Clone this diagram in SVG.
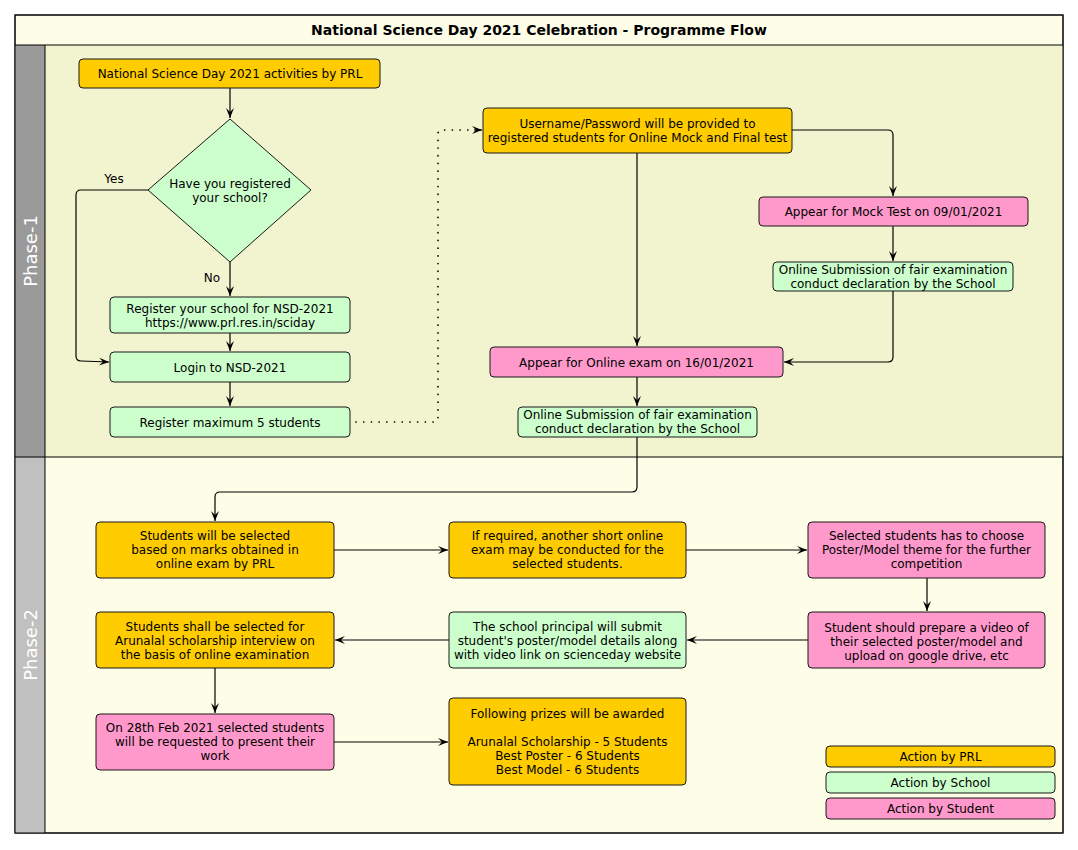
<svg xmlns="http://www.w3.org/2000/svg" width="1078" height="850" viewBox="0 0 1078 850">
<defs>
<marker id="arr" markerWidth="12" markerHeight="10" refX="10" refY="4" orient="auto" markerUnits="userSpaceOnUse">
<path d="M0,0 L10,4 L0,8 L4,4 Z" fill="#000"/>
</marker>
<style>
.t{font-family:"DejaVu Sans",sans-serif;font-size:12px;fill:#000;text-anchor:middle}
.prl{fill:#FFCC00;stroke:#181818;stroke-width:1}
.sch{fill:#CCFFCC;stroke:#181818;stroke-width:1}
.stu{fill:#FF99CC;stroke:#181818;stroke-width:1}
.c{fill:none;stroke:#000;stroke-width:1.2;marker-end:url(#arr)}
.d{fill:none;stroke:#000;stroke-width:1.7;stroke-dasharray:0.1 7.6;stroke-linecap:round}
.lane{font-family:"DejaVu Sans",sans-serif;font-size:18px;fill:#fff;text-anchor:middle}
</style>
</defs>
<rect width="1078" height="850" fill="#fff"/>
<g id="frame">
<rect x="15" y="15" width="1048" height="818" fill="#FEFEE8" stroke="#000" stroke-width="1"/>
<rect x="15" y="45" width="30" height="412" fill="#9A9A9A"/>
<rect x="45" y="45" width="1018" height="412" fill="#F2F4CF"/>
<rect x="15" y="457" width="30" height="376" fill="#C0C0C0"/>
<rect x="15" y="15" width="1048" height="818" fill="none" stroke="#000" stroke-width="1"/>
<line x1="15" y1="45" x2="1063" y2="45" stroke="#000"/>
<line x1="15" y1="457" x2="1063" y2="457" stroke="#000"/>
<line x1="45" y1="45" x2="45" y2="833" stroke="#000"/>
<text x="539" y="35" style="font-family:'DejaVu Sans',sans-serif;font-size:14px;font-weight:bold;text-anchor:middle">National Science Day 2021 Celebration - Programme Flow</text>
<text class="lane" transform="translate(37,251) rotate(-90)">Phase-1</text>
<text class="lane" transform="translate(37,645) rotate(-90)">Phase-2</text>
</g>
<g id="connectors">
<path class="c" d="M230,88 V118"/>
<path class="c" d="M148,190 H81 Q76,190 76,195 V356 Q76,361 81,361 L109,362"/>
<path class="c" d="M230,262 V296"/>
<path class="c" d="M230,333 V351"/>
<path class="c" d="M230,382 V406"/>
<path class="d" d="M356,422 H434 Q438,422 438,418 V134 Q438,130 442,130 H474"/>
<path class="c" d="M474,130 H482"/>
<path class="c" d="M637,153 V346"/>
<path class="c" d="M792,130 H888 Q893,130 893,135 V196"/>
<path class="c" d="M893,226 V261"/>
<path class="c" d="M893,291 V357 Q893,362 888,362 H784"/>
<path class="c" d="M637,377 V406"/>
<path class="c" d="M637,437 V487 Q637,492 632,492 H220 Q215,492 215,497 V521"/>
<path class="c" d="M334,550 H448"/>
<path class="c" d="M686,550 H807"/>
<path class="c" d="M927,578 V611"/>
<path class="c" d="M808,640 H687"/>
<path class="c" d="M449,640 H335"/>
<path class="c" d="M215,668 V713"/>
<path class="c" d="M334,742 H448"/>
<text x="114" y="183" class="t">Yes</text>
<text x="212" y="282" class="t">No</text>
</g>
<g id="n1"><rect class="prl" x="79" y="59" width="301" height="29" rx="4"/><text class="t" x="230" y="78">National Science Day 2021 activities by PRL</text></g>
<g id="n2"><path class="sch" d="M230,119 L311,190 L230,262 L148,190 Z"/><text class="t" x="230" y="188">Have you registered</text><text class="t" x="230" y="202">your school?</text></g>
<g id="n3"><rect class="sch" x="110" y="297" width="240" height="36" rx="4"/><text class="t" x="230" y="313">Register your school for NSD-2021</text><text class="t" x="230" y="327">https://www.prl.res.in/sciday</text></g>
<g id="n4"><rect class="sch" x="110" y="352" width="240" height="30" rx="4"/><text class="t" x="230" y="371.5">Login to NSD-2021</text></g>
<g id="n5"><rect class="sch" x="110" y="407" width="240" height="30" rx="4"/><text class="t" x="230" y="426.5">Register maximum 5 students</text></g>
<g id="n6"><rect class="prl" x="483" y="108" width="309" height="45" rx="4"/><text class="t" x="637.5" y="127.5">Username/Password will be provided to</text><text class="t" x="637.5" y="141.5">registered students for Online Mock and Final test</text></g>
<g id="n7"><rect class="stu" x="759" y="197" width="269" height="29" rx="4"/><text class="t" x="893.5" y="216">Appear for Mock Test on 09/01/2021</text></g>
<g id="n8"><rect class="sch" x="773" y="262" width="240" height="29" rx="4"/><text class="t" x="893" y="273.5">Online Submission of fair examination</text><text class="t" x="893" y="287.5">conduct declaration by the School</text></g>
<g id="n9"><rect class="stu" x="490" y="347" width="293" height="30" rx="4"/><text class="t" x="636.5" y="366.5">Appear for Online exam on 16/01/2021</text></g>
<g id="n10"><rect class="sch" x="518" y="407" width="239" height="30" rx="4"/><text class="t" x="637.5" y="419">Online Submission of fair examination</text><text class="t" x="637.5" y="433">conduct declaration by the School</text></g>
<g id="n11"><rect class="prl" x="96" y="522" width="238" height="56" rx="4"/><text class="t" x="215" y="540">Students will be selected</text><text class="t" x="215" y="554">based on marks obtained in</text><text class="t" x="215" y="568">online exam by PRL</text></g>
<g id="n12"><rect class="prl" x="449" y="522" width="237" height="56" rx="4"/><text class="t" x="567.5" y="540">If required, another short online</text><text class="t" x="567.5" y="554">exam may be conducted for the</text><text class="t" x="567.5" y="568">selected students.</text></g>
<g id="n13"><rect class="stu" x="808" y="522" width="237" height="56" rx="4"/><text class="t" x="926.5" y="540">Selected students has to choose</text><text class="t" x="926.5" y="554">Poster/Model theme for the further</text><text class="t" x="926.5" y="568">competition</text></g>
<g id="n14"><rect class="stu" x="808" y="612" width="237" height="56" rx="4"/><text class="t" x="926.5" y="632">Student should prepare a video of</text><text class="t" x="926.5" y="646">their selected poster/model and</text><text class="t" x="926.5" y="660">upload on google drive, etc</text></g>
<g id="n15"><rect class="sch" x="449" y="612" width="237" height="56" rx="4"/><text class="t" x="567.5" y="631">The school principal will submit</text><text class="t" x="567.5" y="645">student's poster/model details along</text><text class="t" x="567.5" y="659">with video link on scienceday website</text></g>
<g id="n16"><rect class="prl" x="96" y="612" width="238" height="56" rx="4"/><text class="t" x="215" y="631">Students shall be selected for</text><text class="t" x="215" y="645">Arunalal scholarship interview on</text><text class="t" x="215" y="659">the basis of online examination</text></g>
<g id="n17"><rect class="stu" x="96" y="714" width="238" height="56" rx="4"/><text class="t" x="215" y="732">On 28th Feb 2021 selected students</text><text class="t" x="215" y="746">will be requested to present their</text><text class="t" x="215" y="760">work</text></g>
<g id="n18"><rect class="prl" x="449" y="698" width="237" height="87" rx="4"/><text class="t" x="567.5" y="718">Following prizes will be awarded</text><text class="t" x="567.5" y="746">Arunalal Scholarship - 5 Students</text><text class="t" x="567.5" y="760">Best Poster - 6 Students</text><text class="t" x="567.5" y="774">Best Model - 6 Students</text></g>
<g id="legend">
<rect class="prl" x="826" y="746" width="229" height="21" rx="4"/><text class="t" x="940.5" y="761">Action by PRL</text>
<rect class="sch" x="826" y="772" width="229" height="21" rx="4"/><text class="t" x="940.5" y="787">Action by School</text>
<rect class="stu" x="826" y="798" width="229" height="21" rx="4"/><text class="t" x="940.5" y="813">Action by Student</text>
</g>
</svg>
